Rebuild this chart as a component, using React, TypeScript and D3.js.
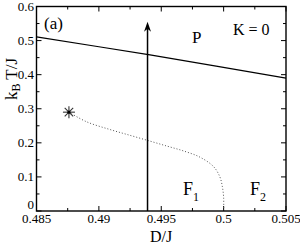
import * as d3 from "d3";

const xTicks = [0.485, 0.49, 0.495, 0.5, 0.505];
const xTickLabels = ["0.485", "0.49", "0.495", "0.5", "0.505"];
const yTicks = [0, 0.1, 0.2, 0.3, 0.4, 0.5, 0.6];
const yTickLabels = ["0", "0.1", "0.2", "0.3", "0.4", "0.5", "0.6"];

// P / F boundary (solid)
const paraD = [0.485, 0.49, 0.4941, 0.4994, 0.505];
const paraT = [0.511, 0.482, 0.458, 0.425, 0.39];

// F1 / F2 boundary (dotted), starts at the star
const ffD = [0.4876, 0.489, 0.4908, 0.4925, 0.4941, 0.4955, 0.4968, 0.4981, 0.4992, 0.4997, 0.4999, 0.5, 0.5];
const ffT = [0.29, 0.262, 0.24, 0.222, 0.205, 0.19, 0.176, 0.158, 0.13, 0.1, 0.071, 0.04, 0];

const starD = 0.4876;
const starT = 0.29;

const arrowD = 0.4939;
const arrowT = [0, 0.555];

const W = 300;
const H = 245;
const L = 36.5, R = 286, T = 6.5, B = 211;

export default function App() {
  const x = d3.scaleLinear().domain([0.485, 0.505]).range([L, R]);
  const y = d3.scaleLinear().domain([0, 0.6]).range([B, T]);
  const font = "'Liberation Serif', 'Times New Roman', serif";

  const line = d3.line<[number, number]>().x((d) => x(d[0])).y((d) => y(d[1]));
  const para = line(paraD.map((d, i) => [d, paraT[i]]));
  const ff = d3
    .line<[number, number]>()
    .x((d) => x(d[0]))
    .y((d) => y(d[1]))
    .curve(d3.curveCatmullRom.alpha(0.5))(ffD.map((d, i) => [d, ffT[i]]));

  const xMinor = d3.range(0.4875, 0.505, 0.005);
  const yMinor = d3.range(0.05, 0.6, 0.1);

  const ax = x(arrowD);
  const ayTop = y(arrowT[1]);
  const sx = x(starD), sy = y(starT);

  return (
    <svg width={W} height={H} style={{ position: "absolute", left: 0, top: 0, background: "#fff" }}>
      <g stroke="#000" strokeWidth={1}>
        {xTicks.map((t) => (
          <g key={"xt" + t}>
            <line x1={x(t)} x2={x(t)} y1={B} y2={B - 5} />
            <line x1={x(t)} x2={x(t)} y1={T} y2={T + 5} />
          </g>
        ))}
        {xMinor.map((t) => (
          <g key={"xm" + t}>
            <line x1={x(t)} x2={x(t)} y1={B} y2={B - 3} />
            <line x1={x(t)} x2={x(t)} y1={T} y2={T + 3} />
          </g>
        ))}
        {yTicks.map((t) => (
          <g key={"yt" + t}>
            <line x1={L} x2={L + 5} y1={y(t)} y2={y(t)} />
            <line x1={R} x2={R - 5} y1={y(t)} y2={y(t)} />
          </g>
        ))}
        {yMinor.map((t) => (
          <g key={"ym" + t}>
            <line x1={L} x2={L + 3} y1={y(t)} y2={y(t)} />
            <line x1={R} x2={R - 3} y1={y(t)} y2={y(t)} />
          </g>
        ))}
      </g>

      <path d={para ?? ""} fill="none" stroke="#000" strokeWidth={1.2} />
      <path d={ff ?? ""} fill="none" stroke="#555" strokeWidth={1} strokeDasharray="1 2" />

      <line x1={ax} x2={ax} y1={B} y2={ayTop + 4} stroke="#000" strokeWidth={1.5} />
      <path d={`M${ax},${ayTop} L${ax - 3.5},${ayTop + 10} L${ax},${ayTop + 7} L${ax + 3.5},${ayTop + 10} Z`} fill="#000" />

      <g stroke="#333" strokeWidth={1.1}>
        {d3.range(4).map((i) => {
          const a = (i * Math.PI) / 4;
          return (
            <line key={i} x1={sx - 6 * Math.cos(a)} y1={sy - 6 * Math.sin(a)} x2={sx + 6 * Math.cos(a)} y2={sy + 6 * Math.sin(a)} />
          );
        })}
      </g>
      <circle cx={sx} cy={sy} r={1.6} fill="#000" />

      <rect x={L} y={T} width={R - L} height={B - T} fill="none" stroke="#000" strokeWidth={1.4} />

      <g fontFamily={font} fontSize={13} fill="#000">
        {xTicks.map((t, i) => (
          <text key={"xl" + t} x={x(t)} y={223} textAnchor="middle">{xTickLabels[i]}</text>
        ))}
        {yTicks.map((t, i) => (
          <text key={"yl" + t} x={34} y={y(t) + (t === 0 ? -2 : 4)} textAnchor="end">{yTickLabels[i]}</text>
        ))}
      </g>

      <g fontFamily={font} fill="#000">
        <text x={161} y={242} fontSize={16} textAnchor="middle">D/J</text>
        <text transform="translate(17,79) rotate(-90)" fontSize={17} textAnchor="middle">
          k<tspan fontSize={12} dy={3}>B</tspan><tspan dy={-3}> T/J</tspan>
        </text>
        <text x={44} y={29} fontSize={17}>(a)</text>
        <text x={192} y={43} fontSize={17}>P</text>
        <text x={233} y={35} fontSize={16}>K = 0</text>
        <text x={183} y={195} fontSize={18}>F<tspan fontSize={12} dy={6}>1</tspan></text>
        <text x={250} y={195} fontSize={18}>F<tspan fontSize={12} dy={6}>2</tspan></text>
      </g>
    </svg>
  );
}
